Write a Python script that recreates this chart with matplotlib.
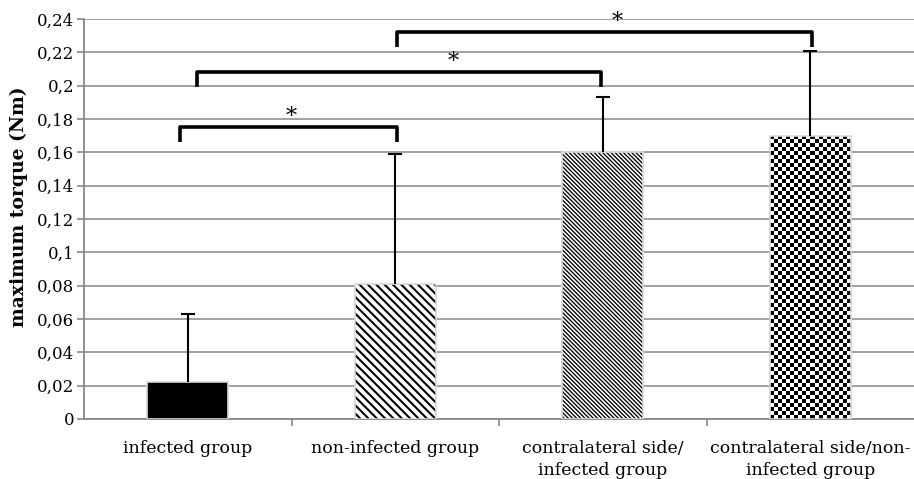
import numpy as np
import matplotlib
matplotlib.use("Agg")
import matplotlib.pyplot as plt

"""data read off the picture"""
groups = ["infected group", "non-infected group",
          "contralateral side/\ninfected group",
          "contralateral side/non-\ninfected group"]
torque = [0.022, 0.081, 0.160, 0.170]
sd_up = [0.041, 0.078, 0.033, 0.051]
y_ticks = [0, 0.02, 0.04, 0.06, 0.08, 0.1, 0.12, 0.14, 0.16, 0.18, 0.2, 0.22, 0.24]
tick_text = ["0", "0,02", "0,04", "0,06", "0,08", "0,1", "0,12", "0,14", "0,16",
             "0,18", "0,2", "0,22", "0,24"]
"""significance brackets: left end, right end, height, star x"""
br_left = [-0.04, 0.045, 1.01]
br_right = [1.01, 1.99, 3.01]
br_height = [0.175, 0.208, 0.232]
star_x = [0.50, 1.28, 2.07]

plt.rcParams['font.family'] = ['DejaVu Serif']
plt.rcParams['hatch.linewidth'] = 1.5

fig = plt.figure(figsize=(9.14, 4.79), dpi=100)
ax = fig.add_axes([0.092, 0.1253, 0.908, 0.835])

x = np.arange(len(groups))
"""fill layer (hatch colour follows edgecolor, so keep it black with no line)"""
bars = ax.bar(x, torque, width=0.39, color='white', edgecolor='black',
              linewidth=0, zorder=3)
bars[0].set_facecolor('black')
bars[1].set_hatch('\\' * 4)
"""finer stripes for the third bar, thinner hatch lines"""
with plt.rc_context({'hatch.linewidth': 0.95}):
    fine = ax.bar(x[2], torque[2], width=0.39, color='white', edgecolor='black',
                  linewidth=0, hatch='\\' * 8, zorder=3.2)
try:
    fine[0].set_hatch_linewidth(0.95)
except AttributeError:
    pass
"""light outline on top"""
ax.bar(x, torque, width=0.39, fill=False, edgecolor='#d8d8d8', linewidth=1.2,
       zorder=3.8)

eb = ax.errorbar(x, torque, yerr=[np.zeros(4), sd_up], fmt='none', ecolor='black',
                 elinewidth=1.5, capsize=5, capthick=1.5, zorder=4)
eb[1][0].set_visible(False)

ax.set_xlim(-0.5, 3.5)
ax.set_ylim(0, 0.24)
ax.set_yticks(y_ticks)
ax.set_yticklabels(tick_text, fontsize=12)
ax.set_xticks(x)
ax.set_xticklabels(groups, fontsize=12.5, linespacing=1.4)
ax.set_xticks([0.5, 1.5, 2.5], minor=True)
ax.tick_params(axis='x', which='major', length=0, pad=15)
ax.tick_params(axis='x', which='minor', length=5, color='#888888', width=1.2)
ax.tick_params(axis='y', length=5, color='#888888', width=1.2, pad=2)
ax.yaxis.grid(True, color='#9a9a9a', linewidth=1.3, zorder=0)
ax.set_axisbelow(True)
for s in ['top', 'right']:
    ax.spines[s].set_visible(False)
for s in ['left', 'bottom']:
    ax.spines[s].set_color('#888888')
    ax.spines[s].set_linewidth(1.3)
ax.set_ylabel('maximum torque (Nm)', fontsize=13.5, fontweight='bold')
ax.yaxis.set_label_coords(-0.067, 0.53)

"""checkerboard fill for the last bar"""
fig.canvas.draw()
b = bars[3]
bx, by, bw, bh = b.get_x(), b.get_y(), b.get_width(), b.get_height()
p0 = ax.transData.transform((bx, by))
p1 = ax.transData.transform((bx + bw, by + bh))
nx = max(1, int(round((p1[0] - p0[0]) / 4.0)))
ny = max(1, int(round((p1[1] - p0[1]) / 4.0)))
board = (np.add.outer(np.arange(ny), np.arange(nx)) % 2).astype(float)
im = ax.imshow(board, cmap='gray', extent=(bx, bx + bw, by, by + bh),
               aspect='auto', interpolation='nearest', zorder=3.5)
im.set_clip_path(b)
ax.set_xlim(-0.5, 3.5)
ax.set_ylim(0, 0.24)

"""brackets with stars"""
for left, right, h, sx in zip(br_left, br_right, br_height, star_x):
    ax.plot([left, left, right, right], [h - 0.009, h, h, h - 0.009],
            color='black', linewidth=2.6, solid_joinstyle='round',
            solid_capstyle='butt', zorder=5, clip_on=False)
    ax.text(sx, h + 0.0065, '*', ha='center', va='center', fontsize=16,
            zorder=6, clip_on=False)

fig.savefig('out.png', dpi=100)
